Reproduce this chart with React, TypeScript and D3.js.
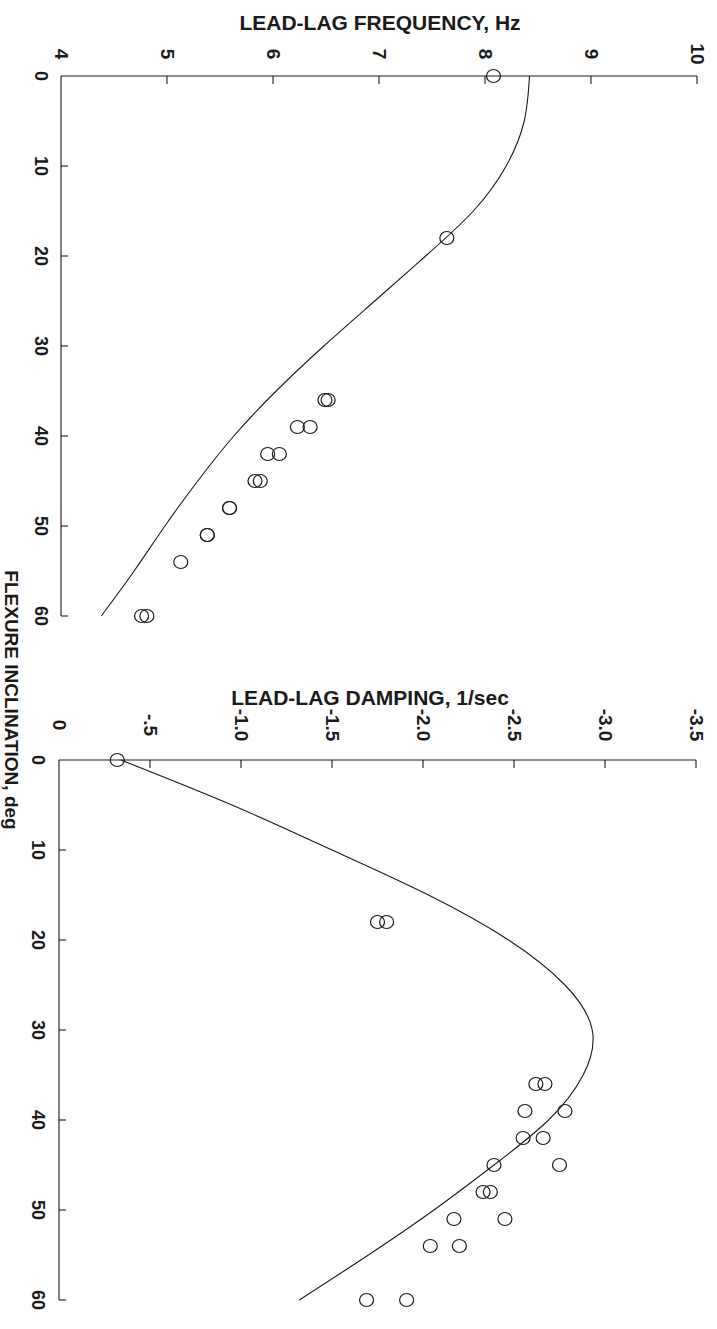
import React from "react";
import * as d3 from "d3";

// Flexure inclination stations (deg)
const incl = [0, 18, 36, 36, 39, 39, 42, 42, 45, 45, 48, 48, 51, 51, 54, 60, 60];
// Measured lead-lag frequency (Hz)
const freqMeas = [8.08, 7.64, 6.49, 6.52, 6.23, 6.35, 5.95, 6.06, 5.83, 5.88, 5.59, 5.59, 5.38, 5.38, 5.13, 4.76, 4.81];

// Measured lead-lag damping (1/sec)
const inclDamp = [0, 18, 18, 36, 36, 39, 39, 42, 42, 45, 45, 48, 48, 51, 51, 54, 54, 60, 60];
const dampMeas = [-0.32, -1.75, -1.8, -2.62, -2.67, -2.56, -2.78, -2.55, -2.66, -2.39, -2.75, -2.33, -2.37, -2.17, -2.45, -2.04, -2.2, -1.69, -1.91];

// Theory curves
const inclTheory = [0, 5, 10, 15, 20, 25, 30, 35, 40, 45, 50, 55, 60];
const freqTheory = [8.42, 8.37, 8.2, 7.89, 7.44, 6.96, 6.48, 6.03, 5.63, 5.29, 4.98, 4.69, 4.38];
const dampTheory = [-0.34, -0.95, -1.5, -2.03, -2.47, -2.78, -2.93, -2.88, -2.69, -2.39, -2.06, -1.7, -1.32];

const freqTicks = [4, 5, 6, 7, 8, 9, 10];
const dampTicks = [0, -0.5, -1.0, -1.5, -2.0, -2.5, -3.0, -3.5];
const dampTickLabels = ["0", "-.5", "-1.0", "-1.5", "-2.0", "-2.5", "-3.0", "-3.5"];
const inclTicks = [0, 10, 20, 30, 40, 50, 60];

const INK = "#1a1a1a";
const FONT = "'Liberation Sans', Arial, Helvetica, sans-serif";

type PanelProps = {
  title: string;
  titleX: number;
  titleY: number;
  labelY: number;
  x: d3.ScaleLinear<number, number>;
  y: d3.ScaleLinear<number, number>;
  ticks: number[];
  tickLabels: string[];
  theory: number[];
  measX: number[];
  measY: number[];
  degLabelX: number;
};

function Panel({ title, titleX, titleY, labelY, x, y, ticks, tickLabels, theory, measX, measY, degLabelX }: PanelProps) {
  const [x0, x1] = x.range();
  const [y0, y1] = y.range();
  const line = d3
    .line<number>()
    .x((_, i) => x(theory[i]))
    .y((d) => y(d))
    .curve(d3.curveNatural);
  return (
    <g>
      <text x={titleX} y={titleY} textAnchor="middle" dominantBaseline="central"
        fontFamily={FONT} fontWeight="bold" fontSize={21} fill={INK}>
        {title}
      </text>
      {/* value axis along the top */}
      <line x1={x0} x2={x1} y1={y0} y2={y0} stroke={INK} strokeWidth={1.1} />
      {ticks.map((t, i) => (
        <g key={"t" + i}>
          {i > 0 && <line x1={x(t)} x2={x(t)} y1={y0} y2={y0 + 8} stroke={INK} strokeWidth={1.1} />}
          <text transform={`translate(${x(t)},${labelY}) rotate(90)`} textAnchor="middle"
            dominantBaseline="central" fontFamily={FONT} fontWeight="bold" fontSize={19} fill={INK}>
            {tickLabels[i]}
          </text>
        </g>
      ))}
      {/* inclination axis down the left */}
      <line x1={x0} x2={x0} y1={y0} y2={y1} stroke={INK} strokeWidth={1.1} />
      {inclTicks.map((t) => (
        <g key={"d" + t}>
          {t > 0 && <line x1={x0} x2={x0 + 7} y1={y(t)} y2={y(t)} stroke={INK} strokeWidth={1.1} />}
          <text transform={`translate(${degLabelX},${y(t)}) rotate(90)`} textAnchor="middle"
            dominantBaseline="central" fontFamily={FONT} fontWeight="bold" fontSize={18} fill={INK}>
            {t}
          </text>
        </g>
      ))}
      <path d={line(inclTheory) ?? ""} fill="none" stroke={INK} strokeWidth={1.1} />
      {measX.map((deg, i) => (
        <ellipse key={"m" + i} cx={x(measY[i])} cy={y(deg)} rx={7} ry={6.5}
          fill="none" stroke={INK} strokeWidth={1.2} />
      ))}
    </g>
  );
}

export default function App() {
  const W = 717;
  const H = 1329;
  const xF = d3.scaleLinear().domain([4, 10]).range([61, 697]);
  const yF = d3.scaleLinear().domain([0, 60]).range([76, 616]);
  const xD = d3.scaleLinear().domain([0, -3.5]).range([59, 696]);
  const yD = d3.scaleLinear().domain([0, 60]).range([760, 1300]);
  return (
    <svg width={W} height={H} style={{ position: "absolute", left: 0, top: 0, background: "#fff" }}>
      <rect width={W} height={H} fill="#fff" />
      <Panel title="LEAD-LAG FREQUENCY, Hz" titleX={380} titleY={22} labelY={54} x={xF} y={yF}
        ticks={freqTicks} tickLabels={freqTicks.map(String)} theory={freqTheory}
        measX={incl} measY={freqMeas} degLabelX={41} />
      <Panel title="LEAD-LAG DAMPING, 1/sec" titleX={370} titleY={697} labelY={725} x={xD} y={yD}
        ticks={dampTicks} tickLabels={dampTickLabels} theory={dampTheory}
        measX={inclDamp} measY={dampMeas} degLabelX={38} />
      <text transform={`translate(11,700) rotate(90)`} textAnchor="middle" dominantBaseline="central"
        fontFamily={FONT} fontWeight="bold" fontSize={19} fill={INK}>
        FLEXURE INCLINATION, deg
      </text>
    </svg>
  );
}
